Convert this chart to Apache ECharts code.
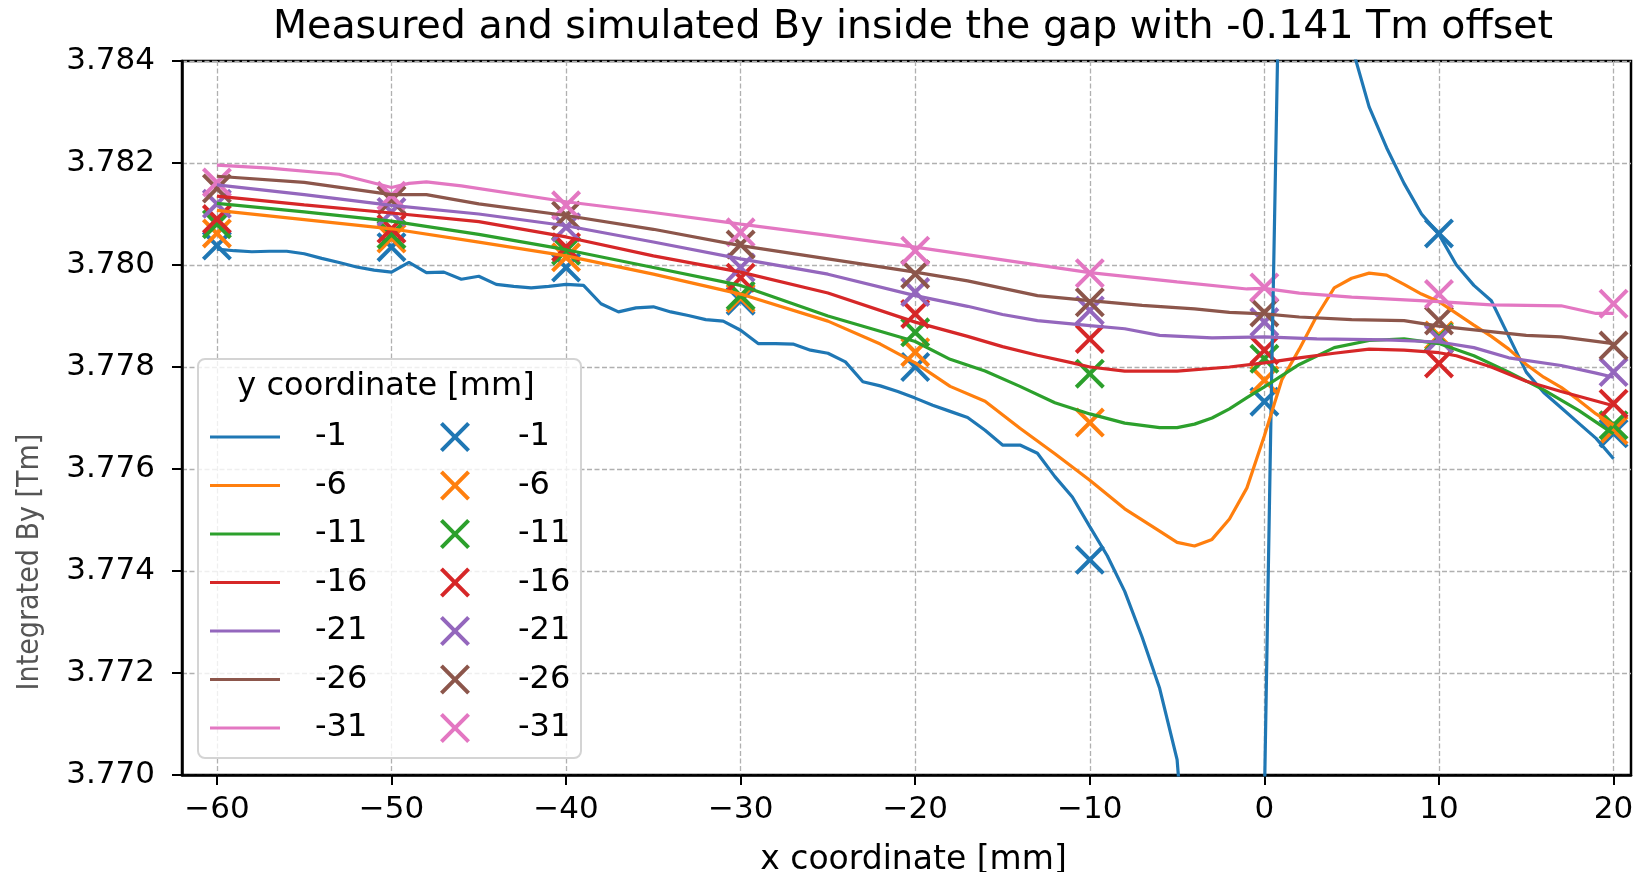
<!DOCTYPE html>
<html>
<head>
<meta charset="utf-8">
<title>Measured and simulated By</title>
<script src="https://cdn.jsdelivr.net/npm/echarts@6.0.0/dist/echarts.min.js"></script>
<style>
  html, body { margin: 0; padding: 0; background: #fff; }
  #chart { width: 1647px; height: 872px; }
</style>
</head>
<body>
<div id="chart"></div>
<script>
// y coordinates [mm] of the scans
const yNames = ['-1', '-6', '-11', '-16', '-21', '-26', '-31']
const colors = ['#1f77b4', '#ff7f0e', '#2ca02c', '#d62728', '#9467bd', '#8c564b', '#e377c2']

// x ticks
const xTicks = [-60, -50, -40, -30, -20, -10, 0, 10, 20]

// simulated By, [x, By]
const simM1 = [[-60, 3.78031], [-59, 3.78028], [-58, 3.78026], [-57, 3.78027], [-56, 3.78027], [-55, 3.78022],
  [-54, 3.78013], [-53, 3.78005], [-52, 3.77996], [-51, 3.77990], [-50, 3.77986], [-49, 3.78005], [-48, 3.77985],
  [-47, 3.77986], [-46, 3.77972], [-45, 3.77978], [-44, 3.77962], [-43, 3.77958], [-42, 3.77955], [-41, 3.77958],
  [-40, 3.77962], [-39, 3.77960], [-38, 3.77924], [-37, 3.77908], [-36, 3.77916], [-35, 3.77918], [-34, 3.77908],
  [-33, 3.77901], [-32, 3.77893], [-31, 3.77890], [-30, 3.77872], [-29, 3.77846], [-28, 3.77846], [-27, 3.77845],
  [-26, 3.77833], [-25, 3.77827], [-24, 3.77810], [-23, 3.77771], [-22, 3.77763], [-21, 3.77752], [-20, 3.77739],
  [-19, 3.77725], [-18, 3.77713], [-17, 3.77701], [-16, 3.77676], [-15, 3.77647], [-14, 3.77647], [-13, 3.77631],
  [-12, 3.77585], [-11, 3.77545], [-10, 3.77487], [-9, 3.77430], [-8, 3.77360], [-7, 3.77270], [-6, 3.77170],
  [-5, 3.77030], [-4, 3.7660], [-3, 3.7580], [-2, 3.7450], [-1, 3.7100], [0, 3.7695], [0.4, 3.7775], [0.75, 3.7840],
  [1, 3.7900], [2, 3.7950], [3, 3.7900], [4, 3.7870], [5, 3.7843], [6, 3.7831], [7, 3.7823], [8, 3.7816],
  [9, 3.7810], [10, 3.7806], [11, 3.7800], [12, 3.7796], [13, 3.7793], [14, 3.7786], [15, 3.7779], [16, 3.7775],
  [17, 3.7772], [18, 3.7769], [19, 3.7766], [20, 3.7762]]
const simM6 = [[-60, 3.78107], [-55, 3.78089], [-50, 3.78071], [-45, 3.78045], [-40, 3.78018], [-35, 3.77982],
  [-30, 3.77943], [-25, 3.77890], [-22, 3.77845], [-20, 3.77808], [-18, 3.77762], [-16, 3.77733], [-14, 3.77680],
  [-12, 3.77630], [-10, 3.77578], [-8, 3.77522], [-6, 3.77478], [-5, 3.77456], [-4, 3.77449], [-3, 3.77462],
  [-2, 3.77502], [-1, 3.77563], [0, 3.77665], [1, 3.77775], [2, 3.77835], [3, 3.77900], [4, 3.77955], [5, 3.77974],
  [6, 3.77984], [7, 3.77980], [8, 3.77962], [9, 3.77943], [10, 3.77928], [11, 3.77905], [12, 3.77882], [13, 3.77860],
  [14, 3.77835], [15, 3.77805], [16, 3.77780], [17, 3.77760], [18, 3.77735], [19, 3.77708], [20, 3.77686]]
const simM11 = [[-60, 3.78121], [-55, 3.78104], [-50, 3.78086], [-45, 3.78060], [-40, 3.78030], [-35, 3.77995],
  [-30, 3.77960], [-25, 3.77900], [-20, 3.77850], [-18, 3.77815], [-16, 3.77792], [-14, 3.77762], [-12, 3.77730],
  [-10, 3.77708], [-8, 3.77690], [-6, 3.77681], [-5, 3.77681], [-4, 3.77688], [-3, 3.77700], [-2, 3.77718],
  [-1, 3.77740], [0, 3.77761], [2, 3.77805], [4, 3.77838], [6, 3.77852], [8, 3.77855], [10, 3.77846], [12, 3.77822],
  [14, 3.77790], [16, 3.77755], [18, 3.77715], [20, 3.77669]]
const simM16 = [[-60, 3.78135], [-55, 3.78118], [-50, 3.78102], [-45, 3.78085], [-40, 3.78055], [-35, 3.78018],
  [-30, 3.77986], [-25, 3.77945], [-20, 3.77888], [-17, 3.77860], [-15, 3.77840], [-13, 3.77823], [-11, 3.77808],
  [-10, 3.77800], [-8, 3.77792], [-5, 3.77792], [-2, 3.77800], [0, 3.77808], [2, 3.77818], [4, 3.77827],
  [6, 3.77835], [8, 3.77833], [10, 3.77828], [11, 3.77822], [13, 3.77800], [15, 3.77772], [17, 3.77752],
  [20, 3.77724]]
const simM21 = [[-60, 3.78157], [-55, 3.78138], [-50, 3.78117], [-45, 3.78100], [-40, 3.78077], [-35, 3.78045],
  [-30, 3.78012], [-25, 3.77982], [-20, 3.77940], [-17, 3.77919], [-15, 3.77903], [-13, 3.77891], [-10, 3.77881],
  [-8, 3.77875], [-6, 3.77862], [-3, 3.77857], [0, 3.77859], [3, 3.77855], [7, 3.77853], [10, 3.77849],
  [12, 3.77838], [14, 3.77818], [17, 3.77803], [19, 3.77788], [20, 3.77780]]
const simM26 = [[-60, 3.78174], [-55, 3.78162], [-50, 3.78138], [-48, 3.78138], [-45, 3.78120], [-40, 3.78097],
  [-35, 3.78070], [-30, 3.78038], [-25, 3.78012], [-20, 3.77986], [-17, 3.77969], [-13, 3.77940], [-10, 3.77930],
  [-7, 3.77921], [-4, 3.77914], [-2, 3.77907], [0, 3.77904], [2, 3.77898], [5, 3.77893], [8, 3.77891],
  [10, 3.77880], [15, 3.77862], [17, 3.77859], [20, 3.77846]]
const simM31 = [[-60, 3.78196], [-57, 3.78190], [-53, 3.78178], [-50, 3.78152], [-49, 3.78160], [-48, 3.78163],
  [-46, 3.78155], [-40, 3.78124], [-35, 3.78103], [-30, 3.78080], [-25, 3.78058], [-20, 3.78035], [-15, 3.78010],
  [-10, 3.77985], [-5, 3.77967], [-1, 3.77953], [0, 3.77954], [2, 3.77945], [5, 3.77937], [10, 3.77928],
  [13, 3.77922], [17, 3.77920], [19, 3.77905], [20, 3.77905]]

// measured By at the x ticks
const measM1 = [3.78038, 3.78035, 3.77995, 3.77930, 3.77800, 3.77422, 3.77732, 3.78062, 3.77670]
const measM6 = [3.78062, 3.78052, 3.78015, 3.77935, 3.77829, 3.77691, 3.77774, 3.77862, 3.77676]
const measM11 = [3.78080, 3.78060, 3.78028, 3.77940, 3.77868, 3.77787, 3.77816, 3.77858, 3.77686]
const measM16 = [3.78090, 3.78071, 3.78035, 3.77975, 3.77904, 3.77855, 3.77833, 3.77807, 3.77728]
const measM21 = [3.78120, 3.78104, 3.78074, 3.77995, 3.77947, 3.77911, 3.77888, 3.77855, 3.77790]
const measM26 = [3.78150, 3.78127, 3.78097, 3.78040, 3.77982, 3.77927, 3.77907, 3.77891, 3.77842]
const measM31 = [3.78162, 3.78136, 3.78117, 3.78064, 3.78028, 3.77984, 3.77956, 3.77943, 3.77924]

const simData = [simM1, simM6, simM11, simM16, simM21, simM26, simM31]
const measData = [measM1, measM6, measM11, measM16, measM21, measM26, measM31]

const FONT = 'DejaVu Sans'
// matplotlib 'x' marker
const xMarker = 'path://M0,9.5L9.5,0L50,40.5L90.5,0L100,9.5L59.5,50L100,90.5L90.5,100L50,59.5L9.5,100L0,90.5L40.5,50Z'

let series = []
yNames.forEach((name, i) => {
  series.push({
    name: 'sim ' + name,
    type: 'line',
    data: simData[i],
    showSymbol: false,
    symbol: 'none',
    clip: true,
    lineStyle: { color: colors[i], width: 3.2 },
    itemStyle: { color: colors[i] }
  })
  series.push({
    name: 'meas ' + name,
    type: 'scatter',
    data: xTicks.map((x, k) => [x, measData[i][k]]),
    symbol: xMarker,
    symbolSize: 30,
    itemStyle: { color: colors[i], opacity: 1 }
  })
})

const legendCommon = {
  orient: 'vertical',
  top: 421,
  padding: 0,
  itemGap: 16.5,
  selectedMode: false,
  formatter: name => name.replace(/^\S+ /, ''),
  textStyle: { fontFamily: FONT, fontSize: 32, color: '#000' }
}

const chart = echarts.init(document.getElementById('chart'))
chart.setOption({
  animation: false,
  backgroundColor: '#fff',
  title: {
    text: 'Measured and simulated By inside the gap with -0.141 Tm offset',
    left: 913,
    top: 8,
    textAlign: 'center',
    padding: 0,
    textStyle: { fontFamily: FONT, fontSize: 39.5, fontWeight: 'normal', color: '#000' }
  },
  grid: {
    left: 182,
    right: 16,
    top: 61,
    bottom: 97,
    outerBoundsMode: 'none',
    show: true,
    borderColor: '#000',
    borderWidth: 2.5,
    backgroundColor: 'transparent'
  },
  legend: [
    Object.assign({}, legendCommon, {
      left: 210,
      icon: 'rect',
      itemWidth: 70,
      itemHeight: 3.2,
      data: yNames.map(n => 'sim ' + n),
      textStyle: Object.assign({}, legendCommon.textStyle, { padding: [0, 0, 0, 30] })
    }),
    Object.assign({}, legendCommon, {
      left: 440,
      itemWidth: 30,
      itemHeight: 30,
      data: yNames.map(n => 'meas ' + n),
      textStyle: Object.assign({}, legendCommon.textStyle, { padding: [0, 0, 0, 43] })
    })
  ],
  graphic: [
    {
      type: 'rect',
      z: 3,
      shape: { x: 198, y: 359, width: 383, height: 399, r: 7 },
      style: { fill: 'rgba(255,255,255,0.8)', stroke: '#d4d4d4', lineWidth: 2 }
    },
    {
      type: 'text',
      z: 4,
      x: 386,
      y: 387,
      style: {
        text: 'y coordinate [mm]',
        fill: '#000',
        font: '32px "DejaVu Sans"',
        textAlign: 'center',
        textVerticalAlign: 'middle'
      }
    },
    {
      // y axis title, sits below the middle of the axis as in the original
      type: 'text',
      z: 4,
      x: 30,
      y: 562,
      rotation: Math.PI / 2,
      style: {
        text: 'Integrated By [Tm]',
        fill: '#555',
        font: '30px "DejaVu Sans Condensed", "Liberation Sans Narrow", sans-serif',
        textAlign: 'center',
        textVerticalAlign: 'middle'
      }
    }
  ],
  xAxis: {
    type: 'value',
    min: -62,
    max: 21,
    name: 'x coordinate [mm]',
    nameLocation: 'middle',
    nameGap: 69,
    nameTextStyle: { fontFamily: FONT, fontSize: 33, color: '#000', padding: [0, 0, 0, 14] },
    axisLine: { show: true, onZero: false, lineStyle: { color: '#000', width: 2.5 } },
    axisTick: { show: true, length: 10, customValues: xTicks, lineStyle: { color: '#000', width: 2 } },
    axisLabel: {
      customValues: xTicks,
      margin: 19,
      fontFamily: FONT,
      fontSize: 31,
      color: '#000',
      formatter: v => v < 0 ? '\u2212' + Math.abs(v) : String(v)
    },
    splitLine: { show: true, lineStyle: { color: '#b0b0b0', width: 1.3, type: [5, 2.5] } }
  },
  yAxis: {
    type: 'value',
    min: 3.770,
    max: 3.784,
    interval: 0.002,
    axisLine: { show: true, onZero: false, lineStyle: { color: '#000', width: 2.5 } },
    axisTick: { show: true, length: 10, lineStyle: { color: '#000', width: 2 } },
    axisLabel: {
      margin: 27,
      fontFamily: FONT,
      fontSize: 31,
      color: '#000',
      formatter: v => v.toFixed(3)
    },
    splitLine: { show: true, lineStyle: { color: '#b0b0b0', width: 1.3, type: [5, 2.5] } }
  },
  series: series
})
</script>
</body>
</html>
